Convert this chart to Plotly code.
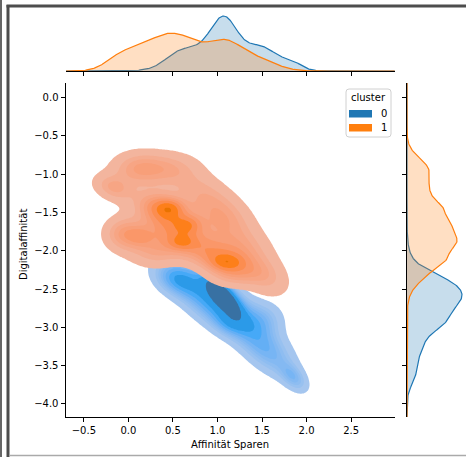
import math
import numpy as np
import plotly.graph_objects as go

# ---------------- data ----------------
clusters = ["0", "1"]
cluster_colors = ["#1f77b4", "#ff7f0e"]
cluster_share = [0.46, 0.54]

# cluster 0: density blobs (centre x, centre y, spread x, spread y, tilt, weight)
c0_cx = [1.00, 1.55, 1.06, 0.55, 1.15, 1.50, 1.85]
c0_cy = [-2.68, -3.30, -2.58, -2.38, -2.95, -2.90, -3.65]
c0_sx = [0.32, 0.20, 0.13, 0.15, 0.12, 0.15, 0.10]
c0_sy = [0.30, 0.22, 0.16, 0.13, 0.10, 0.15, 0.12]
c0_rho = [-0.75, -0.6, -0.75, -0.3, -0.3, 0.0, -0.5]
c0_w = [0.48, 0.12, 0.17, 0.08, 0.03, 0.05, 0.03]

# cluster 1
c1_cx = [0.10, 0.45, -0.17, 0.80, 0.38, 1.05, -0.05, 0.55, 1.30, 0.30, 0.95, 1.55, 1.20,
         0.47, 0.67, 0.60, 1.10, 0.14]
c1_cy = [-0.93, -0.93, -1.18, -1.22, -1.45, -1.55, -1.78, -1.75, -1.95, -2.00, -2.05, -2.35, -2.30,
         -1.44, -1.66, -1.89, -2.15, -1.81]
c1_sx = [0.20, 0.24, 0.15, 0.22, 0.20, 0.22, 0.15, 0.26, 0.22, 0.20, 0.25, 0.18, 0.20,
         0.10, 0.10, 0.10, 0.13, 0.10]
c1_sy = [0.15, 0.15, 0.12, 0.18, 0.15, 0.20, 0.15, 0.17, 0.20, 0.15, 0.15, 0.18, 0.12,
         0.08, 0.08, 0.07, 0.08, 0.09]
c1_rho = [0.0, 0.0, -0.3, -0.3, -0.3, -0.3, 0.0, -0.3, -0.3, 0.0, -0.3, -0.3, 0.0,
          0.0, 0.0, 0.0, 0.0, 0.0]
c1_w = [0.055, 0.055, 0.03, 0.045, 0.09, 0.08, 0.05, 0.11, 0.06, 0.05, 0.09, 0.04, 0.04,
        0.012, 0.012, 0.01, 0.02, 0.01]

x_ticks = [-0.5, 0.0, 0.5, 1.0, 1.5, 2.0, 2.5]
y_ticks = [0.0, -0.5, -1.0, -1.5, -2.0, -2.5, -3.0, -3.5, -4.0]
x_label = "Affinität Sparen"
y_label = "Digitalaffinität"
legend_title = "cluster"

# ---------------- husl (as used by seaborn) ----------------
_m = [[3.2406, -1.5372, -0.4986], [-0.9689, 1.8758, 0.0415], [0.0557, -0.2040, 1.0570]]
_m_inv = [[0.4124, 0.3576, 0.1805], [0.2126, 0.7152, 0.0722], [0.0193, 0.1192, 0.9505]]
_refU, _refV = 0.19784, 0.46834


def _max_chroma(L, H):
    hrad = math.radians(H)
    sinH, cosH = math.sin(hrad), math.cos(hrad)
    sub1 = (L + 16) ** 3 / 1560896.0
    sub2 = sub1 if sub1 > 0.008856 else L / 903.3
    result = float("inf")
    for m1, m2, m3 in _m:
        top = (0.99915 * m1 + 1.05122 * m2 + 1.14460 * m3) * sub2
        rb = 0.86330 * m3 - 0.17266 * m2
        lb = 0.12949 * m3 - 0.38848 * m1
        bottom = (rb * sinH + lb * cosH) * sub2
        for t in (0.0, 1.0):
            C = L * (top - 1.05122 * t) / (bottom + 0.17266 * sinH * t)
            if 0.0 < C < result:
                result = C
    return result


def _f(t):
    return t ** (1.0 / 3.0) if t > 0.008856 else 7.787 * t + 16.0 / 116.0


def _f_inv(t):
    return t ** 3 if t ** 3 > 0.008856 else (116.0 * t - 16.0) / 903.3


def _from_lin(c):
    return 12.92 * c if c <= 0.0031308 else 1.055 * c ** (1 / 2.4) - 0.055


def _to_lin(c):
    return ((c + 0.055) / 1.055) ** 2.4 if c > 0.04045 else c / 12.92


def rgb_to_husl(r, g, b):
    rl = [_to_lin(v) for v in (r, g, b)]
    X, Y, Z = [sum(a * b for a, b in zip(row, rl)) for row in _m_inv]
    d = X + 15 * Y + 3 * Z
    L = 116 * _f(Y) - 16
    U = 13 * L * (4 * X / d - _refU)
    V = 13 * L * (9 * Y / d - _refV)
    C = math.hypot(U, V)
    H = math.degrees(math.atan2(V, U)) % 360
    return H, C / _max_chroma(L, H) * 100, L


def husl_to_rgb(H, S, L):
    C = _max_chroma(L, H) / 100 * S
    U = math.cos(math.radians(H)) * C
    V = math.sin(math.radians(H)) * C
    Y = _f_inv((L + 16) / 116)
    vu = U / (13 * L) + _refU
    vv = V / (13 * L) + _refV
    X = -(9 * Y * vu) / ((vu - 4) * vv - vu * vv)
    Z = (9 * Y - 15 * vv * Y - vv * X) / (3 * vv)
    return [min(1, max(0, _from_lin(sum(a * b for a, b in zip(row, (X, Y, Z)))))) for row in _m]


def cmap_from_color(hexcol):
    r, g, b = [int(hexcol[i:i + 2], 16) / 255 for i in (1, 3, 5)]
    h, s, _ = rgb_to_husl(r, g, b)
    xx = np.linspace(-1, 1, int(1.15 * 256))[:256]
    ls = np.linspace(35, 80, 256)
    cols = [husl_to_rgb(h, s * math.cos(a), l) for a, l in zip(xx, ls)]
    return cols[::-1]


def hexa(c, a=None):
    r, g, b = [int(round(v * 255)) for v in c]
    if a is None:
        return f"rgb({r},{g},{b})"
    return f"rgba({r},{g},{b},{a})"


def hex_rgb(h):
    return [int(h[i:i + 2], 16) / 255 for i in (1, 3, 5)]


# ---------------- densities ----------------
def mix2d(X, Y, cx, cy, sx, sy, rho, w):
    w = np.asarray(w, float) / np.sum(w)
    D = np.zeros_like(X)
    for a, b, s1, s2, r, wi in zip(cx, cy, sx, sy, rho, w):
        dx = (X - a) / s1
        dy = (Y - b) / s2
        z = (dx * dx - 2 * r * dx * dy + dy * dy) / (1 - r * r)
        D += wi * np.exp(-0.5 * z) / (2 * np.pi * s1 * s2 * np.sqrt(1 - r * r))
    return D


def mix1d(t, c, s, w):
    w = np.asarray(w, float) / np.sum(w)
    D = np.zeros_like(t)
    for a, s1, wi in zip(c, s, w):
        D += wi * np.exp(-0.5 * ((t - a) / s1) ** 2) / (s1 * np.sqrt(2 * np.pi))
    return D


comps = [
    (c0_cx, c0_cy, c0_sx, c0_sy, c0_rho, c0_w),
    (c1_cx, c1_cy, c1_sx, c1_sy, c1_rho, c1_w),
]

gx = np.linspace(-0.9, 3.1, 260)
gy = np.linspace(-4.4, 0.4, 280)
GX, GY = np.meshgrid(gx, gy)
dens = [share * mix2d(GX, GY, *cp) for share, cp in zip(cluster_share, comps)]

iso = np.linspace(0.05, 1, 10)
allv = np.concatenate([d.ravel() for d in dens])
sv = np.sort(allv)[::-1]
cum = np.cumsum(sv) / sv.sum()
levels = np.take(sv, np.searchsorted(cum, 1 - iso), mode="clip")

# ---------------- layout geometry (pixels) ----------------
W, H = 466, 457


def px(x):
    return x / W


def py(y):
    return 1 - y / H


fig = go.Figure()

# joint density
for k in range(2):
    d = dens[k]
    g = np.interp(d, levels, np.arange(10.0))
    low = d < levels[0]
    g[low] = d[low] / levels[0] - 1
    cmap = cmap_from_color(cluster_colors[k])
    cs = [[0.0, "rgba(255,255,255,0)"]]
    for b in range(9):
        mid = 0.5 * (levels[b] + levels[b + 1])
        v = (mid - levels[0]) / (levels[-1] - levels[0])
        idx = min(255, max(0, int(v * 256)))
        cs.append([(b + 1) / 9, hexa(cmap[idx])])
    fig.add_trace(go.Contour(
        x=gx, y=gy, z=g, xaxis="x", yaxis="y",
        contours=dict(start=0, end=8, size=1, coloring="fill", showlines=False),
        colorscale=cs, showscale=False, line=dict(width=0),
        hoverinfo="skip", name=clusters[k],
    ))

# marginals
tx = np.linspace(-0.7, 2.99, 500)
ty = np.linspace(-4.17, 0.19, 500)
mx = [share * mix1d(tx, cp[0], cp[2], cp[5]) for share, cp in zip(cluster_share, comps)]
my = [share * mix1d(ty, cp[1], cp[3], cp[5]) for share, cp in zip(cluster_share, comps)]

for k in range(2):
    rgb = hex_rgb(cluster_colors[k])
    fig.add_trace(go.Scatter(
        x=tx, y=mx[k], xaxis="x2", yaxis="y2", mode="lines",
        fill="tozeroy", fillcolor=hexa(rgb, 0.25),
        line=dict(color=cluster_colors[k], width=1.2), hoverinfo="skip", showlegend=False))
    fig.add_trace(go.Scatter(
        x=my[k], y=ty, xaxis="x3", yaxis="y3", mode="lines",
        fill="tozerox", fillcolor=hexa(rgb, 0.25),
        line=dict(color=cluster_colors[k], width=1.2), hoverinfo="skip", showlegend=False))

top_range = max(mx[0].max(), mx[1].max()) * 63 / 55
right_range = max(my[0].max(), my[1].max()) * 59 / 55

axis_common = dict(showgrid=False, zeroline=False, showline=True, linecolor="black",
                   linewidth=1, ticks="outside", ticklen=4, tickcolor="black",
                   tickwidth=1, automargin=False)
font = dict(family="DejaVu Sans", size=10, color="black")

main_x = [px(65.5), px(395)]
main_y = [py(417), py(82.5)]

fig.update_layout(
    width=W, height=H, margin=dict(l=0, r=0, t=0, b=0),
    paper_bgcolor="white", plot_bgcolor="rgba(0,0,0,0)", showlegend=False,
    font=font,
    xaxis=dict(domain=main_x, range=[-0.706, 2.993], tickvals=x_ticks,
               ticktext=[f"{v:.1f}".replace("-", "\u2212") for v in x_ticks],
               anchor="y", tickfont=font, **axis_common),
    yaxis=dict(domain=main_y, range=[-4.17, 0.196], tickvals=y_ticks,
               ticktext=[f"{v:.1f}".replace("-", "\u2212") for v in y_ticks],
               anchor="x", tickfont=font, **axis_common),
    xaxis2=dict(domain=main_x, matches="x", anchor="y2", showticklabels=False,
                tickvals=x_ticks, **axis_common),
    yaxis2=dict(domain=[py(71), py(8)], range=[0, top_range], visible=False),
    xaxis3=dict(domain=[px(407), 1], range=[0, right_range], visible=False),
    yaxis3=dict(domain=main_y, matches="y", anchor="x3", showticklabels=False,
                tickvals=y_ticks, **axis_common),
)

# axis titles
fig.add_annotation(text=x_label, x=px(230), y=py(444), xref="paper", yref="paper",
                   showarrow=False, font=font, xanchor="center", yanchor="middle")
fig.add_annotation(text=y_label, x=px(23), y=py(245), xref="paper", yref="paper",
                   showarrow=False, font=font, textangle=-90, xanchor="center", yanchor="middle")

# legend box (drawn by hand in matplotlib style)
lx0, lx1, ly0, ly1, rr = 346, 391, 89, 137, 3
path = (f"M {px(lx0 + rr)},{py(ly0)} L {px(lx1 - rr)},{py(ly0)} "
        f"Q {px(lx1)},{py(ly0)} {px(lx1)},{py(ly0 + rr)} L {px(lx1)},{py(ly1 - rr)} "
        f"Q {px(lx1)},{py(ly1)} {px(lx1 - rr)},{py(ly1)} L {px(lx0 + rr)},{py(ly1)} "
        f"Q {px(lx0)},{py(ly1)} {px(lx0)},{py(ly1 - rr)} L {px(lx0)},{py(ly0 + rr)} "
        f"Q {px(lx0)},{py(ly0)} {px(lx0 + rr)},{py(ly0)} Z")
fig.add_shape(type="path", path=path, xref="paper", yref="paper",
              line=dict(color="#d0d0d0", width=1), fillcolor="rgba(255,255,255,0.8)")
fig.add_annotation(text=legend_title, x=px(368), y=py(98), xref="paper", yref="paper",
                   showarrow=False, font=font, xanchor="center", yanchor="middle")
for k, (yy0, yy1) in enumerate([(110, 117.5), (124, 131.5)]):
    fig.add_shape(type="rect", x0=px(349), x1=px(372), y0=py(yy1), y1=py(yy0),
                  xref="paper", yref="paper", line=dict(width=0),
                  fillcolor=cluster_colors[k])
    fig.add_annotation(text=clusters[k], x=px(379), y=py((yy0 + yy1) / 2), xref="paper",
                       yref="paper", showarrow=False, font=font, xanchor="left",
                       yanchor="middle")

# screenshot frame
fig.add_shape(type="line", x0=px(1), x1=px(1), y0=0, y1=1, xref="paper", yref="paper",
              line=dict(color="#666666", width=2))
fig.add_shape(type="line", x0=px(8), x1=px(8), y0=0, y1=py(5), xref="paper", yref="paper",
              line=dict(color="#4d4d4d", width=3))
fig.add_shape(type="line", x0=px(6.5), x1=1, y0=py(6), y1=py(6), xref="paper", yref="paper",
              line=dict(color="#4d4d4d", width=3))
fig.add_shape(type="line", x0=px(9.5), x1=1, y0=py(455.5), y1=py(455.5), xref="paper",
              yref="paper", line=dict(color="#aaaaaa", width=1.5))

fig.write_html("out.html", config={"displayModeBar": False},
               post_script="document.body.style.margin='0';")
